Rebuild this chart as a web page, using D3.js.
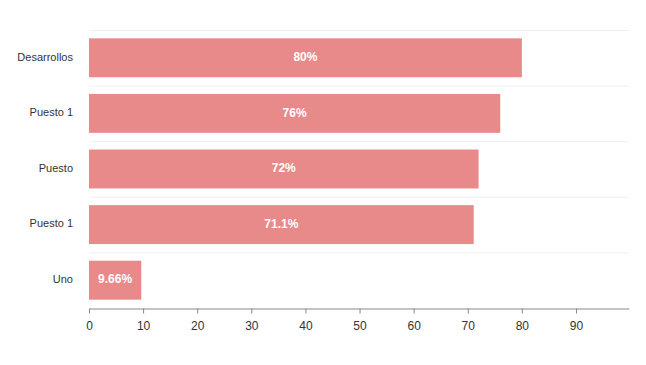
<!DOCTYPE html>
<html><head><meta charset="utf-8">
<script src="https://cdn.jsdelivr.net/npm/d3@7"></script>
<style>body{margin:0;background:#fff;font-family:"Liberation Sans",Arial,sans-serif;}</style>
</head><body><svg id="c" width="646" height="365"></svg>
<script>
const categories = ["Desarrollos","Puesto 1","Puesto","Puesto 1","Uno"];
const values = [80, 76, 72, 71.1, 9.66];
const labels = ["80%","76%","72%","71.1%","9.66%"];
const tickValues = [0,10,20,30,40,50,60,70,80,90];

const svg = d3.select("#c");
const m = {left:89, right:17, top:30, bottom:57};
const W = 646, H = 365;
const x = d3.scaleLinear().domain([0,99.8]).range([m.left, W-m.right]);
const idx = categories.map((d,i)=>i);
const y = d3.scaleBand().domain(idx).range([m.top, H-m.bottom]).paddingInner(0.3).paddingOuter(0.15);
const off = (y.step()-y.bandwidth())/2;

// gridlines
svg.append("g").selectAll("line").data(idx).join("line")
  .attr("x1", m.left).attr("x2", W-m.right)
  .attr("y1", d=>y(d)-off+0.5).attr("y2", d=>y(d)-off+0.5)
  .attr("stroke","#f0f0f0");

svg.append("g").selectAll("rect").data(idx).join("rect")
  .attr("x", x(0)).attr("y", d=>y(d))
  .attr("width", d=>x(values[d])-x(0)).attr("height", y.bandwidth())
  .attr("fill","#E8898A");

svg.append("g").selectAll("text").data(idx).join("text")
  .attr("x", d=>(x(0)+x(values[d]))/2).attr("y", d=>y(d)+y.bandwidth()/2-1)
  .attr("dy","0.35em").attr("text-anchor","middle")
  .attr("fill","#fff").attr("font-weight","bold").attr("font-size","12px")
  .text(d=>labels[d]);

svg.append("g").selectAll("text").data(idx).join("text")
  .attr("x", 73).attr("y", d=>y(d)+y.bandwidth()/2-1)
  .attr("dy","0.35em").attr("text-anchor","end")
  .attr("fill","#333").attr("font-size","11px")
  .text(d=>categories[d]);

const ax = svg.append("g").attr("transform",`translate(0,${H-m.bottom+0.5})`)
  .call(d3.axisBottom(x).tickValues(tickValues).tickSize(5).tickSizeOuter(0).tickPadding(8));
ax.select(".domain").attr("stroke","#888");
ax.selectAll(".tick line").attr("stroke","#888");
ax.selectAll(".tick text").attr("fill","#333").attr("font-size","12px").attr("font-family","'Liberation Sans',Arial,sans-serif");
</script></body></html>
